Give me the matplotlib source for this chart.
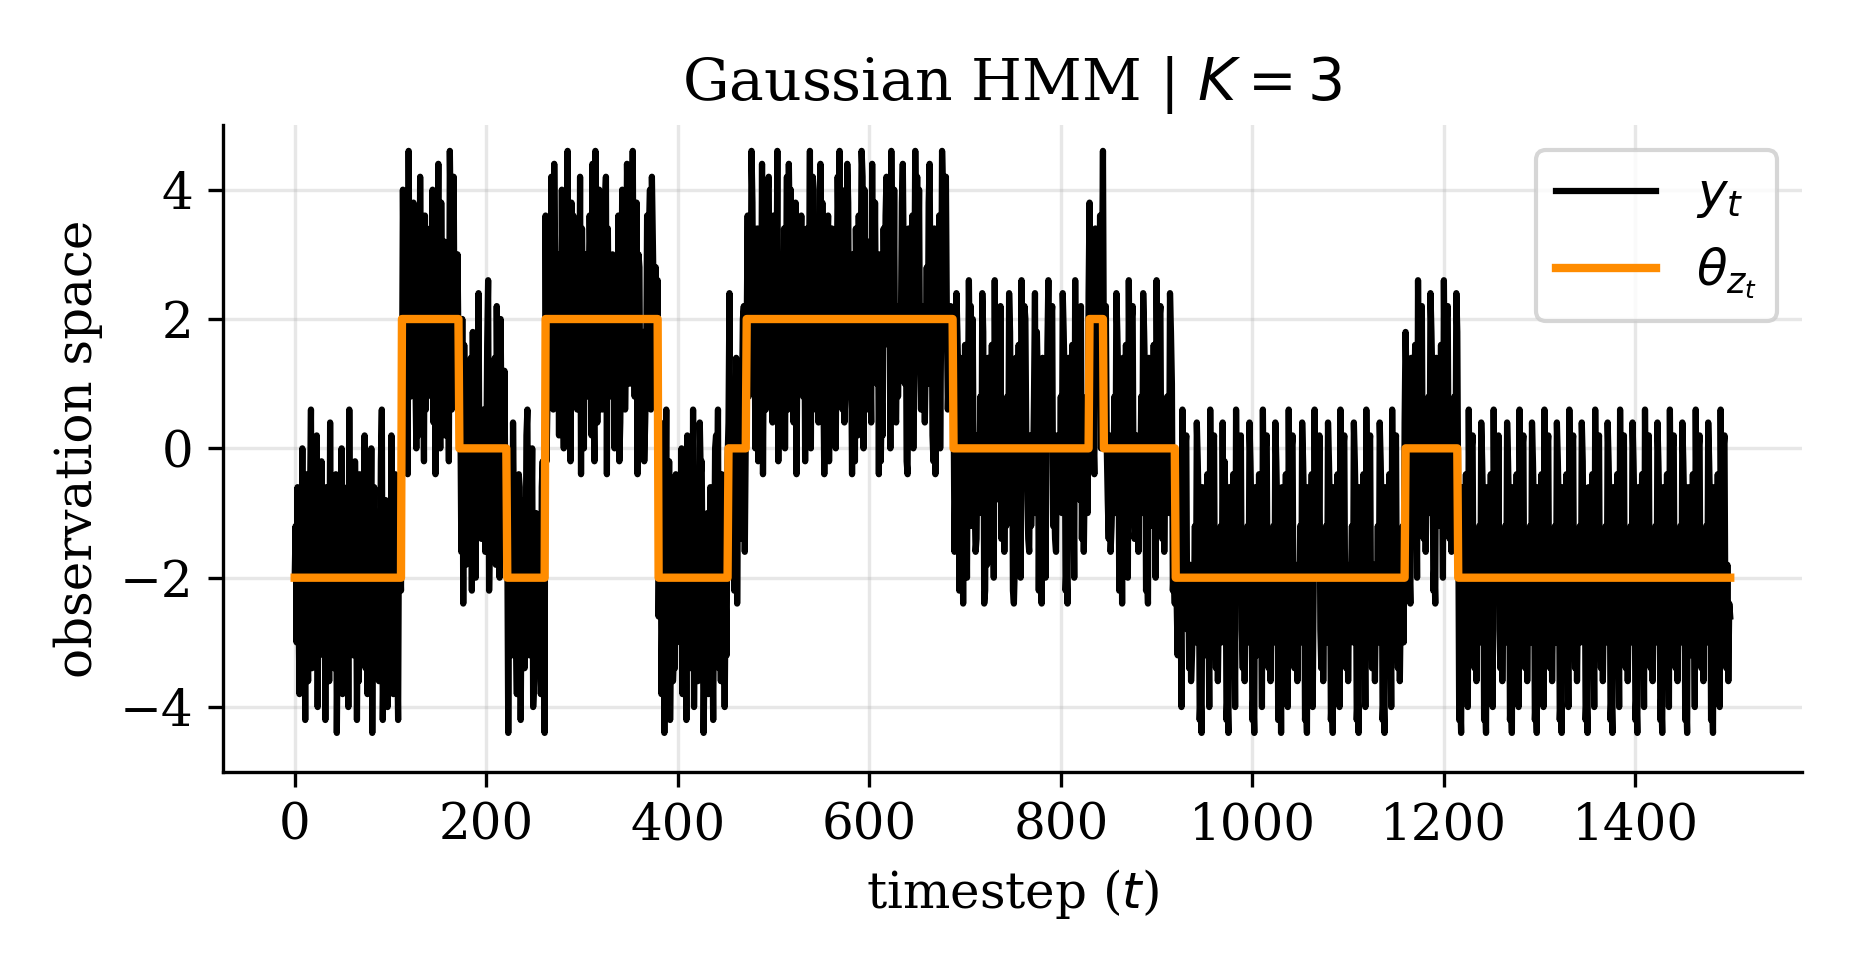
import numpy as np
import matplotlib
matplotlib.use("Agg")
import matplotlib.pyplot as plt

plt.rcParams['font.family'] = ['DejaVu Serif']
plt.rcParams['mathtext.fontset'] = 'dejavusans'
plt.rcParams['font.size'] = 12

# state segments: start timestep and emission mean
seg_starts = [0, 112, 172, 222, 262, 380, 453, 472, 688, 830, 845, 920, 1160, 1215, 1500]
seg_means = [-2, 2, 0, -2, 2, -2, 0, 2, 0, 2, 0, -2, 0, -2]

# observation residuals, coded as letters ('m' = 0, step 0.2)
resid_code = (
    "mqhtkdrmwgobuiemszfkqjnxcpgmvlhrbtkoeyinqfmuajsgpwdlhrmtczkoignvqbmeuhslkxfpdrjmwaotgiqnekvzbhmslcpr"
    "gxmdkuqhbtolfwnejrazmgpkvsicodhxmqlbuftkjnrgwemahpyicvkosdqlmbztfgxjnhrkopewaumdslgqtbvhkcrmyinfjpoe"
    "kuzbgrmhqtdxolcwnfjsiepamkvgyqrhdoutbmslfkxzignpwcejrqhmkdtvoaubgsnlxmfyqkhpdriwjcteozgmbvkulqsfnhxa"
    "tmcrkgiouqdyhbzlemwpsfjnvxatkhogrmcqdiubelwnsfkytxhjpzmgovarqcdklbeiumtwfxsngqhpjrydkmaozclvbitegfuh"
    "pqkmwdrgtbxoisfhzcljnemyuvkagqprdhtoibmwxszfneujkclgvoyhmqrbdtaksifpwxenmuglhzvjqcotbrdkyamsfiwxgnpe"
    "ulhmzbrqkdgtcoxfyswniejvakmlpuhgrbqtdozcsxwifknemyjvhaglrubpqtkdmcoxsziwfnegjyvhlkarqbtmduopzxcwgisf"
    "nkeyjmvlhqarbgdtkuxposczmiwfengkjlvyqhrbatdmgucozsxpwiflnkejqhvymrdbtagokuclzwpsxmfignjhqekyvrbtdmaou"
    "lcpzsxgwkiefnmjqhyvabrdtkgoulczmpswixfnkejgqhyvmrbadtkoulczpsxwmifengjkqyhvrbmdatokcluzpswxgifenkmjqh"
    "yvrbdatkgoulczmpswixfnekjqhyvmrbdatkgolucpzswxmifnegjkqhyvrbdmatokulczpswxifgnmekjqhyvrbdatkgomulczps"
    "wxifnekjqmhyvrbdatkgoulczpswximfnegjkqhyvrbdatmkgoulczpswxifnekjqhymvrbdatkgoulczpsmwxifnekjqhyvrbdat"
    "kgoulmczpswxifnekjqhyvrbdmatkgoulczpswxifnmekjqhyvrbdatkgouclzpswmxifnekjqhyvrbdatkgoulczpswxifnekjmq"
    "hyvrbdatkgoulczpswxifmnekjqhyvrbdatkgoulczpswxifnekjqhyvrmbdatkgoulczpswxifnekjqhyvrbdatkgmoulczpswxi"
    "fnekjqhyvrbdatkgoulczpswxifnekjqhyvrbdatkgoulczpswmxifnekjqhyvrbdatkgoulczpswxifnekjqhyvrbdatkgoulczp"
    "swxifnekjqhyvrbdatkgoulczpswxifnekjqhyvmrbdatkgoulczpswxifnekjqhyvrbdatkgoulczpswxifnekjqhyvrbdatkgou"
    "lczpswxifnekjqhyvrbdatkgoulczpswxifnekjqhyvrbdatkgomulczpswxifnekjqhyvrbdatkgoulczpswxifnekjqhyvrbdat"
)

T = seg_starts[-1]
theta = np.repeat(seg_means, np.diff(seg_starts)).astype(float)
resid = np.array([(ord(c) - ord('m')) * 0.2 for c in resid_code[:T]])
y = theta + resid
t = np.arange(T)

fig, ax = plt.subplots(figsize=(1856 / 300, 975 / 300), dpi=300)
ax.plot(t, y, color='black', lw=1.5, label=r'$y_t$')
ax.plot(t, theta, color='darkorange', lw=2, label=r'$\theta_{z_t}$')
ax.set_ylim(-5, 5)
ax.set_yticks([-4, -2, 0, 2, 4])
ax.set_xticks(range(0, 1401, 200))
ax.grid(alpha=0.3)
ax.spines['top'].set_visible(False)
ax.spines['right'].set_visible(False)
ax.set_xlabel(r'timestep ($t$)')
ax.set_ylabel('observation space')
ax.set_title(r'Gaussian HMM | $K=3$', fontsize=14)
ax.legend(loc='upper right')
fig.tight_layout()
fig.savefig('out.png', dpi=300)
